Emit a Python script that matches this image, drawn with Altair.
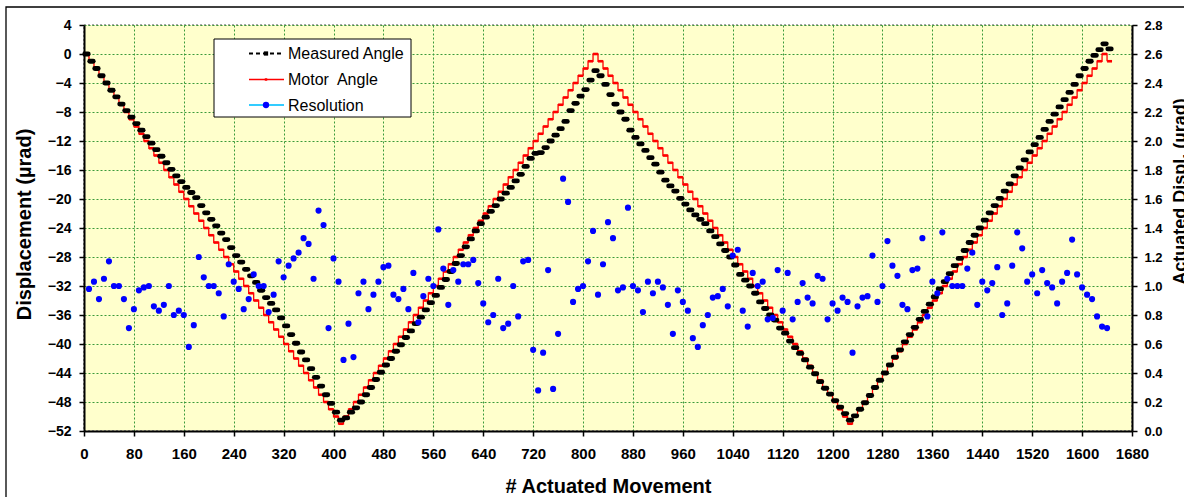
import altair as alt
import pandas as pd

# ---------------- data ----------------
# motor steps: one level per 8 actuated movements
step_movement = list(range(0, 1641, 8))

motor_angle = [
    0, -1, -2, -3, -4, -5, -6, -7, -8, -9,
    -10, -11, -12, -13, -14, -15, -16, -17, -18, -19,
    -20, -21, -22, -23, -24, -25, -26, -27, -28, -29,
    -30, -31, -32, -33, -34, -35, -36, -37, -38, -39,
    -40, -41, -42, -43, -44, -45, -46, -47, -48, -49,
    -50, -51, -50, -49, -48, -47, -46, -45, -44, -43,
    -42, -41, -40, -39, -38, -37, -36, -35, -34, -33,
    -32, -31, -30, -29, -28, -27, -26, -25, -24, -23,
    -22, -21, -20, -19, -18, -17, -16, -15, -14, -13,
    -12, -11, -10, -9, -8, -7, -6, -5, -4, -3,
    -2, -1, 0, -1, -2, -3, -4, -5, -6, -7,
    -8, -9, -10, -11, -12, -13, -14, -15, -16, -17,
    -18, -19, -20, -21, -22, -23, -24, -25, -26, -27,
    -28, -29, -30, -31, -32, -33, -34, -35, -36, -37,
    -38, -39, -40, -41, -42, -43, -44, -45, -46, -47,
    -48, -49, -50, -51, -50, -49, -48, -47, -46, -45,
    -44, -43, -42, -41, -40, -39, -38, -37, -36, -35,
    -34, -33, -32, -31, -30, -29, -28, -27, -26, -25,
    -24, -23, -22, -21, -20, -19, -18, -17, -16, -15,
    -14, -13, -12, -11, -10, -9, -8, -7, -6, -5,
    -4, -3, -2, -1, 0, -1,
]

measured_angle = [
    0, -1, -2, -3, -4, -5, -5.9, -6.9, -7.8, -8.7,
    -9.6, -10.5, -11.4, -12.3, -13.2, -14.1, -15.0, -15.9, -16.8, -17.6,
    -18.4, -19.1, -19.8, -20.9, -21.9, -22.8, -23.7, -24.7, -25.6, -26.7,
    -27.8, -28.7, -29.7, -30.6, -31.5, -32.6, -33.6, -34.4, -35.3, -36.4,
    -37.5, -38.7, -39.9, -41.1, -42.2, -43.4, -44.6, -45.8, -47.0, -48.2,
    -49.4, -50.5, -50.2, -49.4, -48.8, -48.0, -47.0, -46.0, -44.9, -43.9,
    -42.9, -42.0, -41.0, -40.1, -39.1, -38.2, -37.2, -36.3, -35.3, -34.3,
    -33.3, -32.2, -31.1, -30.0, -28.9, -27.8, -26.6, -25.5, -24.4, -23.4,
    -22.5, -21.7, -20.9, -20.0, -19.2, -18.4, -17.5, -16.6, -15.5, -14.4,
    -13.7, -13.6, -12.9, -12.0, -11.2, -10.3, -9.3, -7.8, -6.8, -5.8,
    -4.9, -3.6, -2.3, -3.0, -4.2, -5.6, -6.9, -8.0, -9.0, -10.5,
    -11.5, -12.4, -13.3, -14.3, -15.2, -16.3, -17.4, -18.2, -18.9, -19.9,
    -20.7, -21.5, -22.2, -22.8, -23.4, -24.4, -25.2, -26.2, -27.1, -28.0,
    -29.1, -30.4, -31.2, -32.0, -33.0, -34.2, -35.1, -36.0, -36.7, -37.8,
    -38.5, -39.6, -40.5, -41.3, -42.2, -43.2, -44.1, -45.2, -46.1, -46.9,
    -47.8, -48.7, -49.6, -50.5, -49.9, -49.0, -48.1, -47.1, -46.0, -45.0,
    -44.0, -42.9, -41.8, -40.8, -39.7, -38.7, -37.7, -36.6, -35.5, -34.5,
    -33.5, -32.4, -31.4, -30.3, -29.2, -28.2, -27.1, -26.0, -25.0, -24.0,
    -22.9, -21.9, -20.9, -19.9, -18.9, -17.9, -16.8, -15.7, -14.6, -13.5,
    -12.5, -11.5, -10.4, -9.3, -8.3, -7.3, -6.3, -5.3, -4.2, -3.0,
    -2.0, -1.0, -0.2, 0.6, 1.4, 0.7,
]

resolution_movement = list(range(8, 1641, 8))
resolution = [
    0.98, 1.03, 0.91, 1.05, 1.17, 1.00, 1.00, 0.91, 0.71, 0.84,
    0.97, 0.99, 1.00, 0.86, 0.83, 0.87, 1.00, 0.80, 0.83, 0.80,
    0.58, 0.73, 1.20, 1.06, 1.00, 1.00, 0.95, 0.79, 1.15, 1.03,
    0.98, 0.84, 0.91, 1.08, 1.00, 1.00, 0.82, 0.94, 1.17, 1.06,
    1.14, 1.19, 1.23, 1.33, 1.29, 1.05, 1.52, 1.42, 0.71, 1.19,
    1.03, 0.49, 0.74, 0.51, 0.95, 1.03, 0.84, 0.94, 1.03, 1.13,
    1.14, 0.94, 0.91, 0.98, 0.84, 1.09, 0.75, 0.93, 1.05, 1.00,
    1.39, 1.12, 0.87, 1.11, 1.03, 1.15, 1.15, 1.18, 1.02, 0.88,
    0.75, 0.80, 1.05, 0.71, 0.74, 1.00, 0.79, 1.17, 1.18, 0.56,
    0.28, 0.54, 1.11, 0.29, 0.67, 1.74, 1.58, 0.89, 0.98, 1.00,
    1.17, 1.38, 0.94, 1.15, 1.44, 1.33, 0.97, 0.99, 1.54, 1.00,
    0.97, 0.82, 1.03, 0.95, 1.03, 0.99, 0.87, 0.67, 0.97, 0.89,
    0.83, 0.64, 0.58, 0.73, 0.80, 0.92, 0.93, 0.98, 0.86, 1.21,
    1.25, 0.83, 0.72, 1.09, 1.00, 1.03, 0.77, 0.78, 1.11, 0.83,
    1.09, 0.77, 0.89, 1.02, 0.92, 0.88, 1.07, 1.05, 0.77, 0.88,
    0.83, 0.92, 0.89, 0.54, 0.86, 0.92, 0.93, 1.21, 0.89, 1.00,
    1.31, 1.14, 1.07, 0.87, 0.84, 1.11, 1.12, 1.33, 0.79, 1.03,
    0.95, 1.37, 1.05, 1.00, 1.00, 1.00, 1.12, 1.23, 0.87, 1.03,
    0.97, 1.02, 1.13, 0.80, 0.88, 1.14, 1.37, 1.26, 1.03, 1.08,
    0.95, 1.11, 1.02, 0.99, 0.88, 1.03, 1.09, 1.32, 1.08, 0.99,
    0.94, 0.91, 0.79, 0.72, 0.71,
]

x_ticks = list(range(0, 1681, 80))
left_ticks = list(range(-52, 5, 4))
right_ticks = [0.0, 0.2, 0.4, 0.6, 0.8, 1.0, 1.2, 1.4, 1.6, 1.8, 2.0, 2.2, 2.4, 2.6, 2.8]
legend_labels = ["Measured Angle", "Motor\u00a0 Angle", "Resolution"]

# ---------------- tables ----------------
steps = pd.DataFrame({"movement": step_movement, "motor": motor_angle,
                      "measured": measured_angle})
res_df = pd.DataFrame({"movement": resolution_movement, "resolution": resolution})
one = pd.DataFrame({"k": [0]})

FONT = "Liberation Sans"
W, H = 1048, 406

x_scale = alt.Scale(domain=[0, 1680], nice=False, zero=False)
x_axis = alt.Axis(values=x_ticks, format="d", labelOverlap=False, labelFlush=False,
                  title="# Actuated Movement",
                  grid=True, titleFontSize=20, titleX=W / 2, titleY=61,
                  titleBaseline="alphabetic", titleAlign="center",
                  labelFontSize=15, labelPadding=10, tickSize=5)
yl_scale = alt.Scale(domain=[-52, 4], nice=False, zero=False)
yl_axis = alt.Axis(orient="left", values=left_ticks, format="d", labelOverlap=False,
                   labelFlush=False,
                   title="Displacement (µrad)", grid=True,
                   titleFontSize=20, titleAngle=270, titleX=-54, titleY=199,
                   titleBaseline="alphabetic", titleAlign="center",
                   labelFontSize=14, labelPadding=8, tickSize=5)
yr_scale = alt.Scale(domain=[0, 2.8], nice=False, zero=False)
yr_axis = alt.Axis(orient="right", values=right_ticks, format=".1f", labelOverlap=False,
                   labelFlush=False,
                   title="Actuated Displ. (µrad)", grid=False,
                   titleFontSize=18, titleAngle=270, titleX=53, titleY=166,
                   titleBaseline="alphabetic", titleAlign="center",
                   labelFontSize=13, labelPadding=7, tickSize=5)

X = alt.X("movement:Q", scale=x_scale, axis=x_axis)

motor_line = alt.Chart(steps).mark_line(
    interpolate="step-after", color="#ff0000", strokeWidth=1.3
).encode(x=X, y=alt.Y("motor:Q", scale=yl_scale, axis=yl_axis))

motor_flat = alt.Chart(steps).transform_calculate(
    step_end="datum.movement + 8"
).mark_rule(color="#ff0000", strokeWidth=2.6).encode(
    x=X, x2="step_end:Q", y=alt.Y("motor:Q", scale=yl_scale, axis=yl_axis)
)

measured_bars = alt.Chart(steps).transform_calculate(
    bar_start="datum.movement + 1.2", bar_end="datum.movement + 6.8"
).mark_rule(color="black", strokeWidth=4.8, strokeCap="round").encode(
    x=alt.X("bar_start:Q", scale=x_scale, axis=x_axis),
    x2="bar_end:Q",
    y=alt.Y("measured:Q", scale=yl_scale, axis=yl_axis),
)

left = alt.layer(motor_flat, motor_line, measured_bars)

right = alt.Chart(res_df).mark_circle(size=38, color="#0000ff", opacity=1).encode(
    x=X, y=alt.Y("resolution:Q", scale=yr_scale, axis=yr_axis)
)

# ---------------- legend and chart border ----------------
box = alt.Chart(one).mark_rect(fill="white", stroke="black", strokeWidth=1).encode(
    x=alt.value(130), x2=alt.value(327), y=alt.value(14), y2=alt.value(92))
rows_y = [28.5, 54.5, 80.0]
texts = [
    alt.Chart(one).mark_text(align="left", baseline="middle", fontSize=16, font=FONT,
                             color="black").encode(
        x=alt.value(204), y=alt.value(ry + 0.5), text=alt.value(lbl))
    for lbl, ry in zip(legend_labels, rows_y)
]
sym_meas = alt.Chart(one).mark_rule(color="black", strokeWidth=2, strokeDash=[4, 3]).encode(
    x=alt.value(165), x2=alt.value(200), y=alt.value(rows_y[0]))
sym_meas_pt = alt.Chart(one).mark_square(size=18, color="black", opacity=1).encode(
    x=alt.value(182), y=alt.value(rows_y[0]))
sym_motor = alt.Chart(one).mark_rule(color="#ff0000", strokeWidth=1.5).encode(
    x=alt.value(165), x2=alt.value(200), y=alt.value(rows_y[1]))
sym_motor_pt = alt.Chart(one).mark_square(size=6, color="#ff0000", opacity=1).encode(
    x=alt.value(182), y=alt.value(rows_y[1]))
sym_res = alt.Chart(one).mark_rule(color="#33ccff", strokeWidth=2).encode(
    x=alt.value(165), x2=alt.value(200), y=alt.value(rows_y[2]))
sym_res_pt = alt.Chart(one).mark_circle(size=40, color="#0000ff", opacity=1).encode(
    x=alt.value(182), y=alt.value(rows_y[2]))
border = alt.Chart(one).mark_rect(fillOpacity=0, stroke="black", strokeWidth=1.3).encode(
    x=alt.value(-78), x2=alt.value(1300), y=alt.value(-18), y2=alt.value(700))

deco = alt.layer(box, sym_meas, sym_meas_pt, sym_motor, sym_motor_pt, sym_res, sym_res_pt,
                 *texts, border)

chart = alt.layer(left, right, deco).resolve_scale(y="independent").properties(
    width=W, height=H,
    padding={"left": 84, "top": 25, "right": 52, "bottom": 66},
    autosize=alt.AutoSizeParams(type="none"),
    background="white",
).configure_view(
    fill="#FFFFCC", stroke="#8c8c8c", strokeDash=[2, 2], strokeWidth=1.5
).configure_axis(
    labelFont=FONT, titleFont=FONT, labelFontWeight="bold", titleFontWeight="bold",
    labelColor="black", titleColor="black", domainColor="black", domainWidth=2,
    tickColor="black", tickWidth=1.5, gridColor="#3a9a3a", gridDash=[2, 2], gridWidth=1,
    gridOpacity=1,
)

chart.save("out.html", embed_options={"renderer": "svg", "actions": False})
